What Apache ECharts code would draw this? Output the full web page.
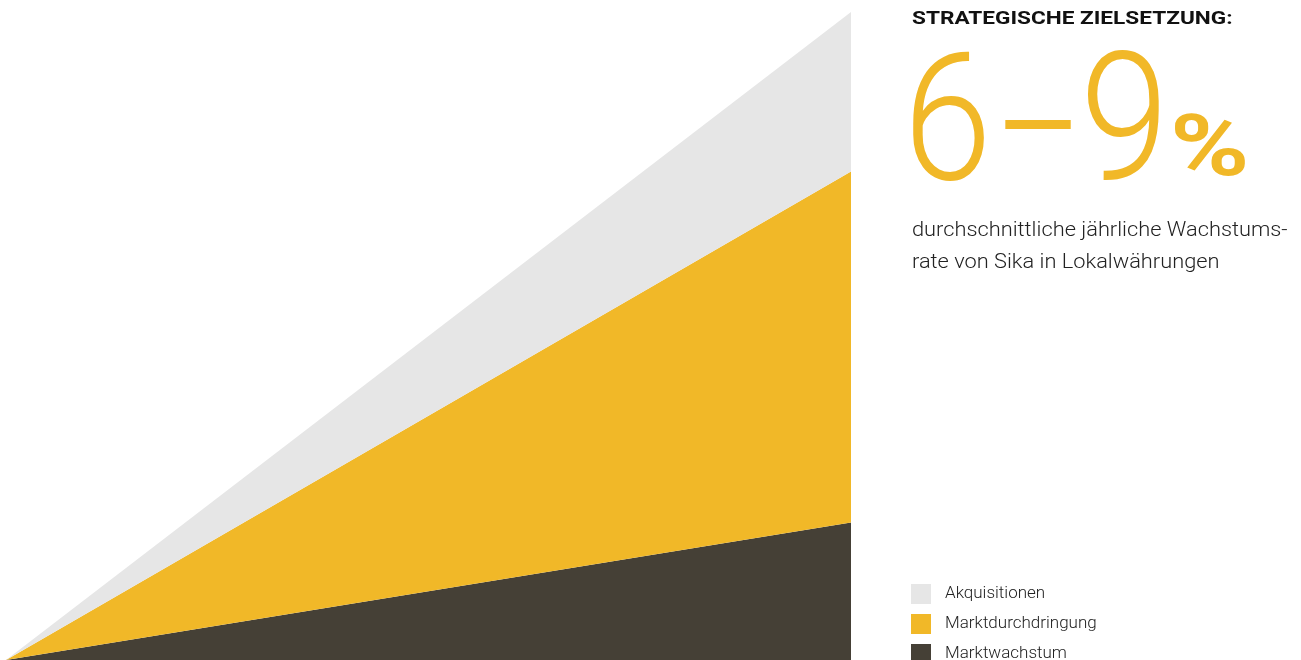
<!DOCTYPE html>
<html>
<head>
<meta charset="utf-8">
<script src="https://cdn.jsdelivr.net/npm/echarts@6/dist/echarts.min.js"></script>
<style>
  html, body { margin: 0; padding: 0; background: #fff; }
  #chart { width: 1301px; height: 660px; }
</style>
</head>
<body>
<div id="chart"></div>
<script>
// Werte (Anteile in %, von unten nach oben gestapelt)
const categories = ['Heute', 'Ziel']
const marktwachstum = [0, 21.2]
const marktdurchdringung = [0, 54.2]
const akquisitionen = [0, 24.6]

const legendOrder = ['Akquisitionen', 'Marktdurchdringung', 'Marktwachstum']

const GREY = '#e6e6e6'
const YELLOW = '#f1b828'
const DARK = '#454036'

const chart = echarts.init(document.getElementById('chart'))

const area = (name, data, color) => ({
  name,
  type: 'line',
  stack: 'total',
  symbol: 'none',
  silent: true,
  lineStyle: { width: 0 },
  itemStyle: { color },
  areaStyle: { color, opacity: 1 },
  data
})

// grosse Ziffern
const bigDigit = (text, x, y, sx) => ({
  type: 'text', x, y, scaleX: sx,
  style: { text, fontFamily: 'Roboto', fontWeight: 300, fontSize: 178, fill: YELLOW }
})

chart.setOption({
  animation: false,
  grid: { left: 6, top: 12, width: 845, height: 651 },
  xAxis: { type: 'category', boundaryGap: false, data: categories, show: false },
  yAxis: { type: 'value', min: 0, max: 100, show: false },
  legend: {
    orient: 'vertical',
    left: 911,
    top: 584,
    height: 100,
    padding: 0,
    itemWidth: 20,
    itemHeight: 20,
    itemGap: 10,
    icon: 'rect',
    data: legendOrder,
    textStyle: { fontFamily: 'Roboto', fontWeight: 300, fontSize: 17, color: '#222', padding: [3, 0, 0, 9] }
  },
  graphic: [
    {
      type: 'text', x: 912, y: 10, scaleX: 1.19,
      style: { text: 'STRATEGISCHE ZIELSETZUNG:', fontFamily: 'Roboto', fontWeight: 'bold', fontSize: 19, fill: '#111' }
    },
    bigDigit('6', 903, 45, 0.9),
    bigDigit('–', 995, 55, 0.75),
    bigDigit('9', 1080, 45, 0.9),
    {
      type: 'text', x: 1170, y: 110, scaleX: 1.25,
      style: { text: '%', fontFamily: 'Roboto', fontWeight: 'bold', fontSize: 86, fill: YELLOW }
    },
    {
      type: 'text', x: 912, y: 215, scaleX: 1.09,
      style: {
        text: 'durchschnittliche jährliche Wachstums-\nrate von Sika in Lokalwährungen',
        fontFamily: 'Roboto', fontWeight: 300, fontSize: 20, lineHeight: 32, fill: '#222'
      }
    }
  ],
  series: [
    area('Marktwachstum', marktwachstum, DARK),
    area('Marktdurchdringung', marktdurchdringung, YELLOW),
    area('Akquisitionen', akquisitionen, GREY)
  ]
})
</script>
</body>
</html>
